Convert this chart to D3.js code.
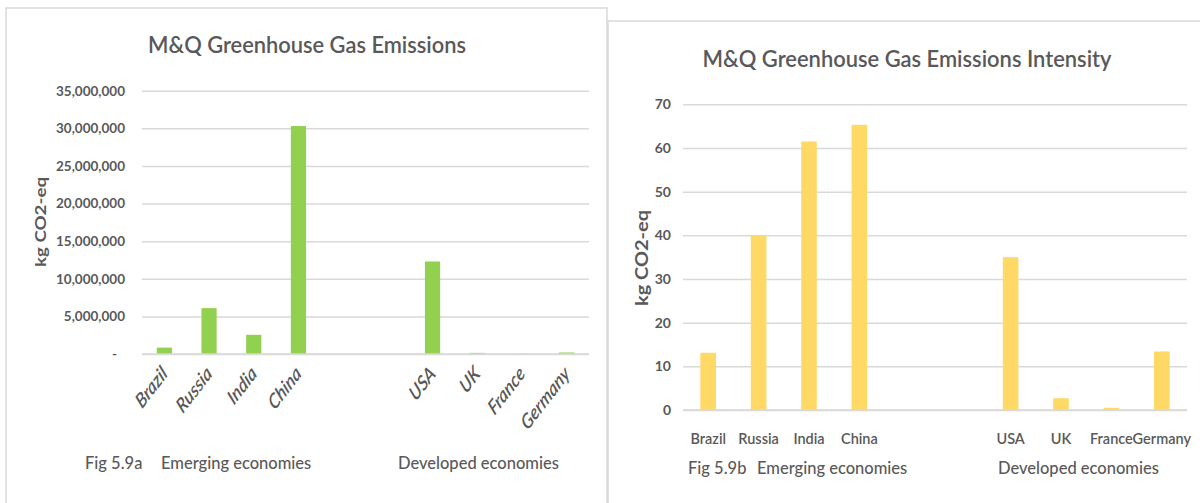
<!DOCTYPE html>
<html>
<head>
<meta charset="utf-8">
<script src="https://cdn.jsdelivr.net/npm/d3@7"></script>
<style>
  html, body { margin: 0; padding: 0; background: #fff; }
  svg { display: block; font-family: Lato, "Open Sans", sans-serif; }
</style>
</head>
<body>
<svg id="chart" width="1200" height="503"></svg>
<script>
// Countries, with two empty slots separating the two economy groups
const categories = ["Brazil", "Russia", "India", "China", "gap1", "gap2", "USA", "UK", "France", "Germany"];
const categoryLabels = ["Brazil", "Russia", "India", "China", "", "", "USA", "UK", "France", "Germany"];

// Total M&Q greenhouse gas emissions, kg CO2-eq
const emissionsKg = [850000, 6100000, 2550000, 30300000, null, null, 12300000, 150000, 30000, 200000];
// Emissions intensity, kg CO2-eq
const intensityKg = [13.1, 40, 61.5, 65.3, null, null, 35, 2.7, 0.5, 13.4];

const emissionsTicks = [0, 5000000, 10000000, 15000000, 20000000, 25000000, 30000000, 35000000];
const intensityTicks = [0, 10, 20, 30, 40, 50, 60, 70];

const TEXT = "#595959";
const GRID = "#d9d9d9";

const svg = d3.select("#chart");

function panel(cfg) {
  const g = svg.append("g");

  // panel frame
  g.append("path")
    .attr("d", cfg.frame)
    .attr("fill", "none")
    .attr("stroke", GRID)
    .attr("stroke-width", 1.5);

  // title
  g.append("text")
    .attr("x", cfg.titleX).attr("y", cfg.titleY)
    .attr("text-anchor", "middle")
    .attr("fill", TEXT)
    .attr("font-size", cfg.titleSize)
    .attr("font-weight", 600)
    .attr("textLength", cfg.titleLen)
    .attr("lengthAdjust", "spacingAndGlyphs")
    .text(cfg.title);

  const x = d3.scaleBand()
    .domain(categories)
    .range([cfg.left, cfg.right])
    .paddingInner(cfg.pad)
    .paddingOuter(cfg.pad / 2);

  const y = d3.scaleLinear()
    .domain([0, d3.max(cfg.ticks)])
    .range([cfg.bottom, cfg.top]);

  // gridlines via axis
  const grid = g.append("g")
    .attr("transform", `translate(${cfg.left},0)`)
    .call(d3.axisRight(y).tickValues(cfg.ticks).tickSize(cfg.right - cfg.left).tickFormat(""));
  grid.select(".domain").remove();
  grid.selectAll("line").attr("stroke", GRID).attr("stroke-width", 1.5);

  // y tick labels
  const yAxis = g.append("g")
    .attr("transform", `translate(${cfg.tickLabelX},0)`)
    .call(d3.axisLeft(y).tickValues(cfg.ticks).tickSize(0).tickPadding(0).tickFormat(cfg.fmt));
  yAxis.select(".domain").remove();
  yAxis.selectAll("text")
    .attr("fill", TEXT)
    .attr("font-family", "Lato, sans-serif")
    .attr("font-size", cfg.tickSize)
    .attr("font-weight", "bold")
    .attr("dx", d => (d === 0 && cfg.zeroDx) ? cfg.zeroDx : 0);

  // bars
  const data = categories.map((c, i) => ({ c, v: cfg.values[i] })).filter(d => d.v != null);
  g.append("g").selectAll("rect")
    .data(data)
    .join("rect")
    .attr("x", d => x(d.c))
    .attr("width", x.bandwidth())
    .attr("y", d => y(d.v))
    .attr("height", d => cfg.bottom - y(d.v))
    .attr("fill", cfg.color);

  // category labels
  const lab = g.append("g")
    .attr("transform", `translate(0,${cfg.bottom})`)
    .call(d3.axisBottom(x).tickSize(0).tickPadding(0).tickFormat((d, i) => categoryLabels[i]));
  lab.select(".domain").remove();
  const labText = lab.selectAll("text")
    .attr("fill", TEXT)
    .attr("font-family", "Lato, sans-serif")
    .attr("font-size", cfg.catSize)
    .attr("font-weight", 600);
  if (cfg.rotate) {
    labText
      .attr("font-style", "italic")
      .attr("text-anchor", "end")
      .attr("dy", 0)
      .attr("y", 0)
      .attr("transform", `translate(${cfg.rotDx},${cfg.rotDy}) scale(1,1.3) rotate(${cfg.rotate})`);
  } else {
    labText.attr("dy", 0).attr("y", cfg.catY);
  }

  // baseline
  g.append("line")
    .attr("x1", cfg.left).attr("x2", cfg.right)
    .attr("y1", cfg.bottom).attr("y2", cfg.bottom)
    .attr("stroke", GRID).attr("stroke-width", 1.5);

  // y axis title
  g.append("text")
    .attr("transform", `translate(${cfg.yTitleX},${cfg.yTitleY}) rotate(-90)`)
    .attr("text-anchor", "middle")
    .attr("dominant-baseline", "central")
    .attr("fill", TEXT)
    .attr("font-size", cfg.yTitleSize)
    .attr("font-weight", "bold")
    .attr("textLength", cfg.yTitleLen)
    .attr("lengthAdjust", "spacingAndGlyphs")
    .text("kg CO2-eq");

  // figure number and group captions
  cfg.captions.forEach(c => {
    g.append("text")
      .attr("x", c.x).attr("y", cfg.captionY)
      .attr("fill", TEXT)
      .attr("font-size", 16.5)
      .attr("font-weight", 500)
      .text(c.t);
  });
}

const fmtBig = d => d === 0 ? "-" : d3.format(",")(d);

panel({
  frame: "M6,504 L6,8 L607,8 L607,504",
  title: "M&Q Greenhouse Gas Emissions",
  titleX: 307, titleY: 53, titleSize: 22, titleLen: 318,
  left: 142, right: 589, top: 90.7, bottom: 354,
  pad: 0.66,
  ticks: emissionsTicks, values: emissionsKg, fmt: fmtBig,
  tickLabelX: 125, tickSize: 13.5, zeroDx: -8,
  color: "#92D050",
  catSize: 16, rotate: -45, rotDx: 4, rotDy: 21,
  yTitleX: 39, yTitleY: 222, yTitleSize: 16, yTitleLen: 90,
  captionY: 469,
  captions: [{ x: 85, t: "Fig 5.9a" }, { x: 161, t: "Emerging economies" }, { x: 398, t: "Developed economies" }]
});

panel({
  frame: "M608,504 L608,21 L1200,21",
  title: "M&Q Greenhouse Gas Emissions Intensity",
  titleX: 907, titleY: 67, titleSize: 22, titleLen: 409,
  left: 683, right: 1187, top: 104.3, bottom: 410,
  pad: 0.69,
  ticks: intensityTicks, values: intensityKg, fmt: d3.format("d"),
  tickLabelX: 671, tickSize: 14, zeroDx: 0,
  color: "#FFD966",
  catSize: 14.5, rotate: 0, catY: 34,
  yTitleX: 642, yTitleY: 258, yTitleSize: 16.5, yTitleLen: 96,
  captionY: 474,
  captions: [{ x: 688, t: "Fig 5.9b" }, { x: 757, t: "Emerging economies" }, { x: 998, t: "Developed economies" }]
});
</script>
</body>
</html>
